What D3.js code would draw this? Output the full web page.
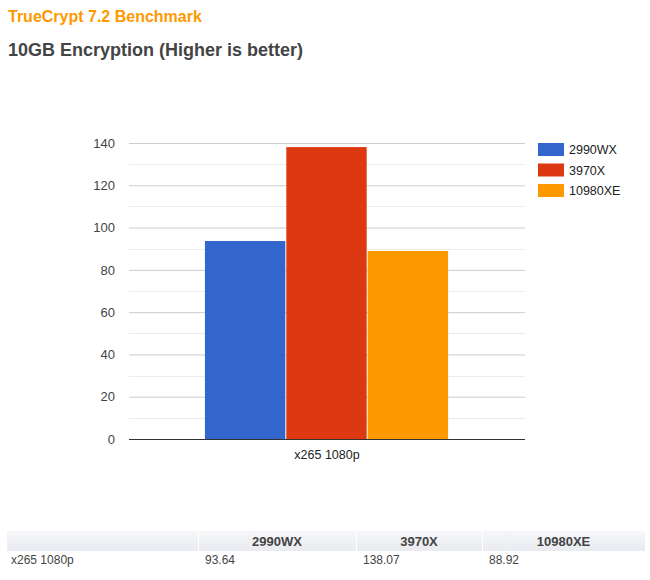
<!DOCTYPE html>
<html>
<head>
<meta charset="utf-8">
<script src="https://cdn.jsdelivr.net/npm/d3@7"></script>
<style>
  body { margin: 0; background: #fff; font-family: Arial, "Liberation Sans", sans-serif; }
</style>
</head>
<body>
<div id="chart"></div>
<script>
const categories = ["x265 1080p"];
const series = ["2990WX", "3970X", "10980XE"];
const values = [[93.64, 138.07, 88.92]];
const yTicks = [0, 20, 40, 60, 80, 100, 120, 140];
const colors = ["#3366cc", "#dc3912", "#ff9900"];

const width = 650;
const height = 580;
const plot = { left: 129, right: 525, top: 143, bottom: 439 };

const svg = d3.select("#chart")
  .append("svg")
  .attr("width", width)
  .attr("height", height);

svg.append("text")
  .attr("x", 8).attr("y", 22)
  .attr("fill", "#ff9900")
  .attr("font-size", 16).attr("font-weight", "bold")
  .text("TrueCrypt 7.2 Benchmark");

svg.append("text")
  .attr("x", 8).attr("y", 56)
  .attr("fill", "#444")
  .attr("font-size", 18).attr("font-weight", "bold")
  .text("10GB Encryption (Higher is better)");

const y = d3.scaleLinear()
  .domain([0, 140])
  .range([plot.bottom, plot.top]);

const x0 = d3.scaleBand()
  .domain(categories)
  .range([plot.left, plot.right])
  .paddingInner(0)
  .paddingOuter(0.311);

const x1 = d3.scaleBand()
  .domain(series)
  .range([0, x0.bandwidth()]);

// minor gridlines
const minor = d3.range(10, 140, 20);
svg.append("g")
  .selectAll("line")
  .data(minor)
  .join("line")
  .attr("x1", plot.left).attr("x2", plot.right)
  .attr("y1", d => Math.round(y(d)) + 0.5).attr("y2", d => Math.round(y(d)) + 0.5)
  .attr("stroke", "#ebebeb");

// major gridlines + labels
const yAxis = d3.axisLeft(y)
  .tickValues(yTicks)
  .tickSize(-(plot.right - plot.left))
  .tickPadding(14);

const yg = svg.append("g")
  .attr("transform", `translate(${plot.left},0)`)
  .call(yAxis);
yg.select(".domain").remove();
yg.selectAll(".tick line").attr("stroke", "#cccccc");
yg.selectAll(".tick text")
  .attr("fill", "#444")
  .attr("font-size", 13)
  .attr("font-family", "Arial, 'Liberation Sans', sans-serif");

// bars
const groups = svg.append("g")
  .selectAll("g")
  .data(categories)
  .join("g")
  .attr("transform", d => `translate(${x0(d)},0)`);

groups.selectAll("rect")
  .data((d, i) => series.map((s, j) => ({ s, v: values[i][j], j })))
  .join("rect")
  .attr("x", d => x1(d.s))
  .attr("width", x1.bandwidth() - 1)
  .attr("y", d => y(d.v))
  .attr("height", d => y(0) - y(d.v))
  .attr("fill", d => colors[d.j]);

// baseline
svg.append("line")
  .attr("x1", plot.left).attr("x2", plot.right)
  .attr("y1", y(0) + 0.5).attr("y2", y(0) + 0.5)
  .attr("stroke", "#333");

// x axis label
svg.append("g")
  .selectAll("text")
  .data(categories)
  .join("text")
  .attr("x", d => x0(d) + x0.bandwidth() / 2)
  .attr("y", 459)
  .attr("text-anchor", "middle")
  .attr("fill", "#222")
  .attr("font-size", 12.5)
  .text(d => d);

// legend
const legend = svg.append("g")
  .selectAll("g")
  .data(series)
  .join("g")
  .attr("transform", (d, i) => `translate(538,${143 + i * 20.5})`);

legend.append("rect")
  .attr("width", 26).attr("height", 13)
  .attr("fill", (d, i) => colors[i]);

legend.append("text")
  .attr("x", 31).attr("y", 11)
  .attr("fill", "#222")
  .attr("font-size", 12.5)
  .text(d => d);

// data table
const colEdges = [7, 198, 356, 482, 645];
const grad = svg.append("defs").append("linearGradient")
  .attr("id", "hdr").attr("x1", 0).attr("x2", 0).attr("y1", 0).attr("y2", 1);
grad.append("stop").attr("offset", "0%").attr("stop-color", "#f6f7f9");
grad.append("stop").attr("offset", "100%").attr("stop-color", "#e9ebf1");

svg.append("rect")
  .attr("x", colEdges[0]).attr("y", 531)
  .attr("width", colEdges[4] - colEdges[0]).attr("height", 20)
  .attr("fill", "url(#hdr)");

svg.append("g")
  .selectAll("line")
  .data(colEdges.slice(1, 4))
  .join("line")
  .attr("x1", d => d + 0.5).attr("x2", d => d + 0.5)
  .attr("y1", 531).attr("y2", 551)
  .attr("stroke", "#ffffff");

svg.append("g")
  .selectAll("text")
  .data(series)
  .join("text")
  .attr("x", (d, i) => (colEdges[i + 1] + colEdges[i + 2]) / 2)
  .attr("y", 546)
  .attr("text-anchor", "middle")
  .attr("fill", "#444")
  .attr("font-size", 13)
  .attr("font-weight", "bold")
  .attr("font-family", "'Liberation Sans Narrow', Arial, sans-serif")
  .text(d => d);

const rows = svg.append("g")
  .selectAll("g")
  .data(categories)
  .join("g")
  .attr("transform", (d, i) => `translate(0,${564 + i * 20})`);

rows.selectAll("text")
  .data((d, i) => [d].concat(values[i].map(v => v.toFixed(2))))
  .join("text")
  .attr("x", (d, i) => colEdges[i] + (i === 0 ? 4 : 7))
  .attr("fill", "#444")
  .attr("font-size", 12)
  .text(d => d);
</script>
</body>
</html>
